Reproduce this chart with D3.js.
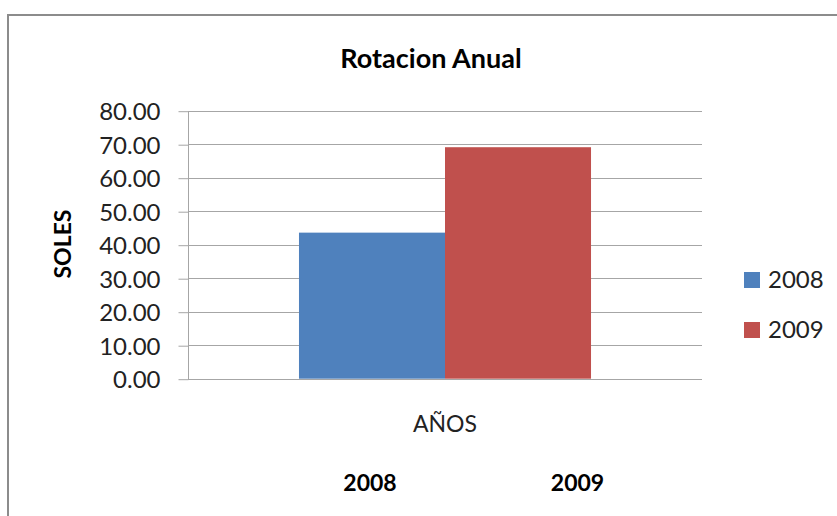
<!DOCTYPE html>
<html><head><meta charset="utf-8">
<script src="https://cdn.jsdelivr.net/npm/d3@7/dist/d3.min.js"></script>
<style>body{margin:0;background:#fff}svg{display:block}text{font-family:Lato,"Open Sans",sans-serif}</style>
</head><body><svg id="c" width="837" height="516"></svg>
<script>
const categories = ["AÑOS"];
const seriesNames = ["2008", "2009"];
const values2008 = [43.6];
const values2009 = [69.1];
const yTicks = [0, 10, 20, 30, 40, 50, 60, 70, 80];
const tableLabels = ["2008", "2009"];
const colors = ["#4F81BD", "#C0504D"];

const svg = d3.select("#c");
// outer frame
svg.append("rect").attr("x", 8).attr("y", 15).attr("width", 900).attr("height", 600)
  .attr("fill", "#fff").attr("stroke", "#8c8c8c").attr("stroke-width", 2);

const plot = {l: 188, r: 702, t: 110.7, b: 378.7};
const y = d3.scaleLinear().domain([0, 80]).range([plot.b, plot.t]);
const x0 = d3.scaleBand().domain(categories).range([plot.l, plot.r]).paddingInner(0).paddingOuter(0.38);
const x1 = d3.scaleBand().domain(seriesNames).range([0, x0.bandwidth()]);

// gridlines
svg.append("g").selectAll("line").data(yTicks).join("line")
  .attr("x1", plot.l).attr("x2", plot.r)
  .attr("y1", d => Math.round(y(d)) + 0.5).attr("y2", d => Math.round(y(d)) + 0.5)
  .attr("stroke", "#a6a6a6").attr("stroke-width", 1);

// y axis
const yAxis = d3.axisLeft(y).tickValues(yTicks).tickSize(10).tickPadding(18).tickFormat(d3.format(".2f"));
const ga = svg.append("g").attr("transform", `translate(${plot.l + 0.5},0.5)`).call(yAxis);
ga.select(".domain").attr("stroke", "#a6a6a6").attr("d", `M0,${Math.round(plot.t)}V${Math.round(plot.b)}`);
ga.selectAll(".tick line").attr("stroke", "#a6a6a6");
ga.selectAll(".tick text").attr("fill", "#222").style("font-size", "24px").style("font-family", "Lato").attr("dy", "0.36em");

// bars
const data = seriesNames.map((s, i) => ({s, v: [values2008, values2009][i][0], c: colors[i]}));
svg.append("g").selectAll("rect").data(data).join("rect")
  .attr("x", d => x0(categories[0]) + x1(d.s))
  .attr("width", x1.bandwidth())
  .attr("y", d => y(d.v))
  .attr("height", d => y(0) - y(d.v))
  .attr("fill", d => d.c);

// title
svg.append("text").attr("x", 431).attr("y", 68).attr("text-anchor", "middle")
  .style("font-size", "27px").style("font-weight", "bold").attr("fill", "#000").text("Rotacion Anual");

// y title
svg.append("text").attr("transform", "translate(71,244) rotate(-90)").attr("text-anchor", "middle")
  .style("font-size", "23px").style("font-weight", "bold").attr("fill", "#000").text("SOLES");

// category label
svg.append("text").attr("x", x0(categories[0]) + x0.bandwidth() / 2).attr("y", 432).attr("text-anchor", "middle")
  .style("font-size", "23px").attr("fill", "#222").text(categories[0]);

// table labels
const tx = [370, 577.5];
svg.append("g").selectAll("text").data(tableLabels).join("text")
  .attr("x", (d, i) => tx[i]).attr("y", 491).attr("text-anchor", "middle")
  .style("font-size", "23px").style("font-weight", "bold").attr("fill", "#000").text(d => d);

// legend
const lg = svg.append("g").selectAll("g").data(data).join("g")
  .attr("transform", (d, i) => `translate(744,${272 + i * 50})`);
lg.append("rect").attr("width", 16).attr("height", 16).attr("fill", d => d.c);
lg.append("text").attr("x", 24).attr("y", 16).style("font-size", "24px").attr("fill", "#222").text(d => d.s);
</script></body></html>
